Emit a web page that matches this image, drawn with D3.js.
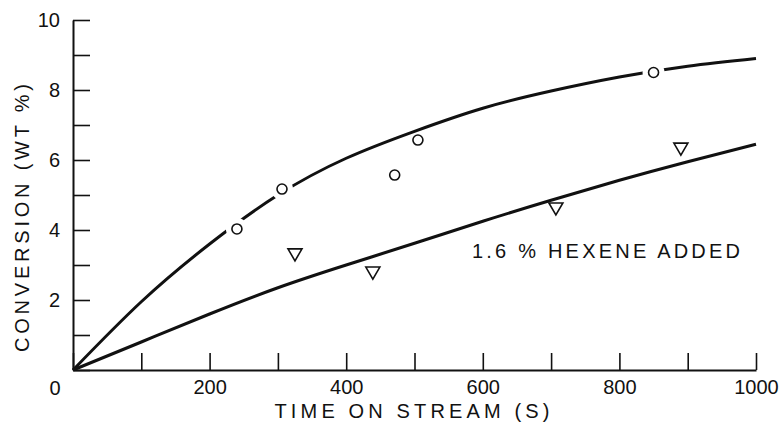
<!DOCTYPE html>
<html>
<head>
<meta charset="utf-8">
<script src="https://cdn.jsdelivr.net/npm/d3@7"></script>
<style>
  body { margin: 0; background: #fff; }
  text { font-family: "Liberation Sans", Arial, sans-serif; fill: #111; }
</style>
</head>
<body>
<div id="container"></div>
<script>
let timeTicks = [0, 100, 200, 300, 400, 500, 600, 700, 800, 900, 1000];
let convTicks = [0, 1, 2, 3, 4, 5, 6, 7, 8, 9, 10];

// fitted curves (drawn by hand in the original)
let curveTime = [0, 100, 200, 300, 400, 500, 600, 700, 800, 900, 1000];
let curveBase = [0, 1.95, 3.6, 5.0, 6.05, 6.82, 7.48, 7.97, 8.37, 8.68, 8.9];
let curveHexene = [0, 0.8, 1.6, 2.35, 3.0, 3.62, 4.25, 4.85, 5.42, 5.95, 6.45];

// measured points
let baseTime = [240, 306, 471, 505, 850];
let baseConv = [4.03, 5.17, 5.57, 6.57, 8.5];
let hexTime = [325, 439, 707, 890];
let hexConv = [3.29, 2.77, 4.6, 6.31];

let labelText = "1.6 % HEXENE ADDED";

let svg = d3.select("#container")
    .append("svg")
    .attr("width", 780)
    .attr("height", 427);

let x = d3.scaleLinear().domain([0, 1000]).range([73, 756]);
let y = d3.scaleLinear().domain([0, 10]).range([370, 20]);

// axes, ticks point inward
let xAxis = d3.axisBottom(x)
    .tickValues(timeTicks)
    .tickSizeInner(-17)
    .tickSizeOuter(0)
    .tickPadding(10)
    .tickFormat(d => (d > 0 && d % 200 === 0) ? d : "");
let yAxis = d3.axisLeft(y)
    .tickValues(convTicks)
    .tickSizeInner(-17)
    .tickSizeOuter(0)
    .tickPadding(13)
    .tickFormat(d => (d > 0 && d % 2 === 0) ? d : "");

let gx = svg.append("g").attr("transform", "translate(0,370)").call(xAxis);
let gy = svg.append("g").attr("transform", "translate(73,0)").call(yAxis);
[gx, gy].forEach(g => {
    g.select(".domain").attr("stroke", "#111").attr("stroke-width", 2);
    g.selectAll(".tick line").attr("stroke", "#111").attr("stroke-width", 1.6);
    g.selectAll("text")
        .attr("font-family", "Liberation Sans, Arial, sans-serif")
        .attr("font-size", 20)
        .attr("fill", "#111");
});

// shared zero at the corner
svg.append("text")
    .attr("x", 55)
    .attr("y", 395)
    .attr("text-anchor", "middle")
    .attr("font-size", 20)
    .text("0");

// axis titles
svg.append("text")
    .attr("x", 412)
    .attr("y", 418)
    .attr("text-anchor", "middle")
    .attr("font-size", 20)
    .attr("textLength", 275)
    .text("TIME ON STREAM (S)");

svg.append("text")
    .attr("transform", "translate(29,218) rotate(-90)")
    .attr("text-anchor", "middle")
    .attr("font-size", 20)
    .attr("textLength", 268)
    .text("CONVERSION (WT %)");

// curves
let line = d3.line()
    .x(d => x(d[0]))
    .y(d => y(d[1]))
    .curve(d3.curveNatural);

let basePts = curveTime.map((t, i) => [t, curveBase[i]]);
let hexPts = curveTime.map((t, i) => [t, curveHexene[i]]);

svg.append("path")
    .attr("d", line(basePts))
    .attr("fill", "none")
    .attr("stroke", "#111")
    .attr("stroke-width", 3);

svg.append("path")
    .attr("d", line(hexPts))
    .attr("fill", "none")
    .attr("stroke", "#111")
    .attr("stroke-width", 3);

// the line is broken where it runs through a point
let baseData = baseTime.map((t, i) => ({ t: t, v: baseConv[i] }));
let onCurve = d => {
    let c = d3.scaleLinear().domain(curveTime).range(curveBase)(d.t);
    return Math.abs(y(c) - y(d.v)) < 5;
};
svg.append("g")
    .selectAll("circle")
    .data(baseData.filter(onCurve))
    .enter()
    .append("circle")
    .attr("cx", d => x(d.t))
    .attr("cy", d => y(d.v))
    .attr("r", 11)
    .attr("fill", "#fff");

svg.append("g")
    .selectAll("circle")
    .data(baseData)
    .enter()
    .append("circle")
    .attr("cx", d => x(d.t))
    .attr("cy", d => y(d.v))
    .attr("r", 5)
    .attr("fill", "#fff")
    .attr("stroke", "#111")
    .attr("stroke-width", 1.6);

svg.append("g")
    .selectAll("path")
    .data(hexTime.map((t, i) => ({ t: t, v: hexConv[i] })))
    .enter()
    .append("path")
    .attr("transform", d => "translate(" + x(d.t) + "," + y(d.v) + ")")
    .attr("d", "M-7,-6L7,-6L0,6Z")
    .attr("fill", "#fff")
    .attr("stroke", "#111")
    .attr("stroke-width", 1.6);

svg.append("text")
    .attr("x", 472)
    .attr("y", 258)
    .attr("font-size", 20)
    .attr("textLength", 268)
    .text(labelText);
</script>
</body>
</html>
